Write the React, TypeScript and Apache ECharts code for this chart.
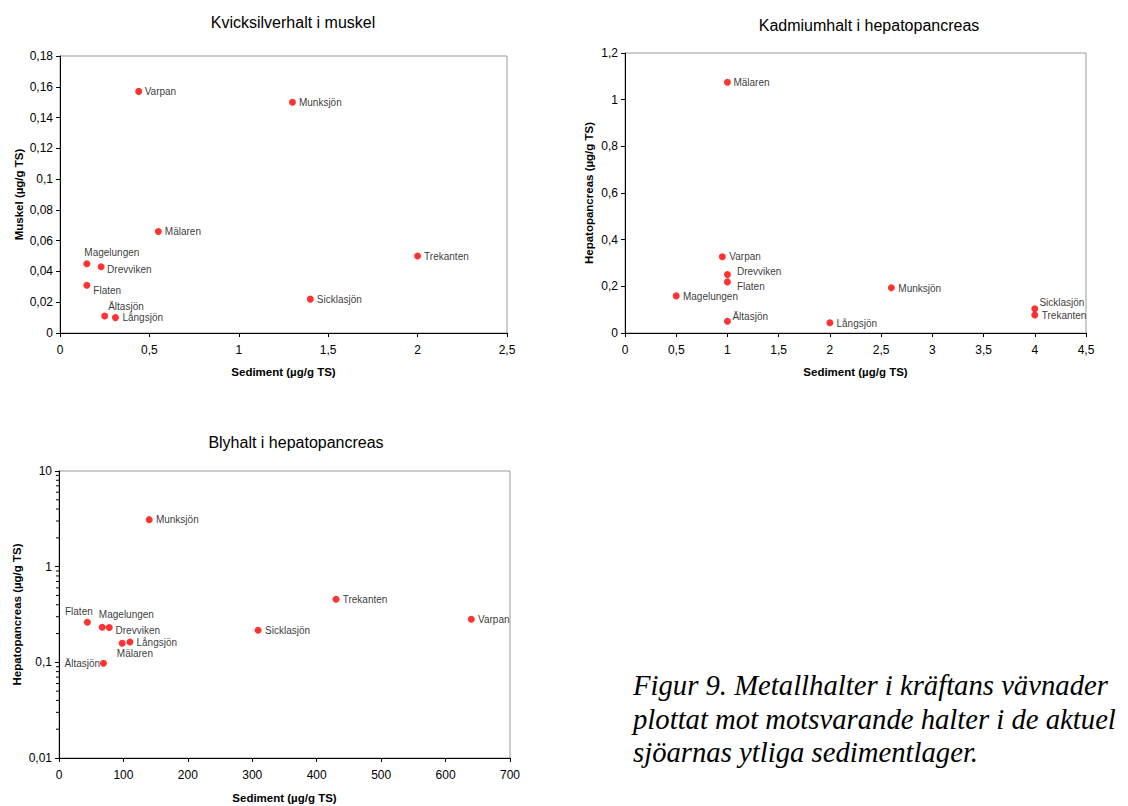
import React, { useEffect, useRef } from "react";
import * as echarts from "echarts";

// ---- Data ----
const hgNames = ["Varpan", "Munksjön", "Mälaren", "Magelungen", "Drevviken", "Flaten", "Trekanten", "Sicklasjön", "Ältasjön", "Långsjön"];
const hgSediment = [0.44, 1.3, 0.55, 0.15, 0.23, 0.15, 2.0, 1.4, 0.25, 0.31];
const hgMuskel = [0.157, 0.15, 0.066, 0.045, 0.043, 0.031, 0.05, 0.022, 0.011, 0.01];

const cdNames = ["Mälaren", "Varpan", "Drevviken", "Flaten", "Munksjön", "Magelungen", "Sicklasjön", "Trekanten", "Ältasjön", "Långsjön"];
const cdSediment = [1.0, 0.95, 1.0, 1.0, 2.6, 0.5, 4.0, 4.0, 1.0, 2.0];
const cdHepato = [1.075, 0.327, 0.251, 0.219, 0.194, 0.159, 0.104, 0.077, 0.05, 0.044];

const pbNames = ["Munksjön", "Trekanten", "Varpan", "Flaten", "Magelungen", "Drevviken", "Sicklasjön", "Långsjön", "Mälaren", "Ältasjön"];
const pbSediment = [140, 430, 640, 44, 67, 78, 309, 110, 98, 69];
const pbHepato = [3.1, 0.456, 0.282, 0.262, 0.233, 0.231, 0.216, 0.163, 0.158, 0.098];

const logMinorTicks = [
  0.02, 0.03, 0.04, 0.05, 0.06, 0.07, 0.08, 0.09,
  0.2, 0.3, 0.4, 0.5, 0.6, 0.7, 0.8, 0.9,
  2, 3, 4, 5, 6, 7, 8, 9,
];

const titles = ["Kvicksilverhalt i muskel", "Kadmiumhalt i hepatopancreas", "Blyhalt i hepatopancreas"];
const xName = "Sediment (µg/g TS)";
const yNames = ["Muskel (µg/g TS)", "Hepatopancreas (µg/g TS)", "Hepatopancreas (µg/g TS)"];
const captionLines = [
  "Figur 9. Metallhalter i kräftans vävnader",
  "plottat mot motsvarande halter i de aktuel",
  "sjöarnas ytliga sedimentlager.",
];

// ---- Label placement (style) : [dx, dy, align] relative to point centre ----
type Place = [number, number, string?];
const hgPlace: Record<string, Place> = {
  Varpan: [6, 0], Munksjön: [6.5, 0], Mälaren: [6.5, 0], Magelungen: [-2.5, -11.5],
  Drevviken: [6, 2.5], Flaten: [6.5, 5.5], Trekanten: [6.5, 0], Sicklasjön: [6.5, 0],
  Ältasjön: [3.5, -10], Långsjön: [7, 0],
};
const cdPlace: Record<string, Place> = {
  Mälaren: [6, 0], Varpan: [7, 0], Drevviken: [9.5, -2.5], Flaten: [9.5, 4.5],
  Munksjön: [7, 0.7], Magelungen: [6.7, 0.7], Sicklasjön: [4.6, -6.7], Trekanten: [7, 0],
  Ältasjön: [5, -4.5], Långsjön: [6.6, 0.7],
};
const pbPlace: Record<string, Place> = {
  Munksjön: [6.7, 0], Trekanten: [6.7, 0], Varpan: [6.7, 0], Flaten: [-8.5, -10.6, "center"],
  Magelungen: [-3.3, -12.6], Drevviken: [6.3, 2.6], Sicklasjön: [7, 0], Långsjön: [6.6, 0],
  Mälaren: [-5.3, 9.7], Ältasjön: [-3.3, 0.7, "right"],
};

const FONT = "'Liberation Sans', Arial, sans-serif";
const SYM = 7;

const fmt = (v: number) => String(+Number(v).toFixed(6)).replace(".", ",");

function points(names: string[], xs: number[], ys: number[], place: Record<string, Place>) {
  return names.map((n, i) => {
    const p = place[n] || [6, 0];
    return {
      name: n,
      value: [xs[i], ys[i]],
      label: {
        position: [SYM / 2 + p[0], SYM / 2 + p[1]],
        align: p[2] || "left",
        verticalAlign: "middle",
      },
    };
  });
}

function makeX(idx: number, max: number, interval: number, nameGap: number) {
  return {
    gridIndex: idx,
    type: "value",
    min: 0,
    max,
    interval,
    name: xName,
    nameLocation: "middle",
    nameGap,
    nameTextStyle: { fontFamily: FONT, fontSize: 11.5, fontWeight: "bold", color: "#000" },
    axisLine: { show: true, onZero: false, lineStyle: { color: "#000", width: 1 } },
    axisTick: { show: true, inside: false, length: 4, lineStyle: { color: "#000" } },
    axisLabel: { fontFamily: FONT, fontSize: 12, color: "#000", margin: 11, formatter: fmt },
    splitLine: { show: false },
  };
}

function makeY(idx: number, extra: any, nameGap: number) {
  return {
    gridIndex: idx,
    name: yNames[idx],
    nameLocation: "middle",
    nameRotate: 90,
    nameGap,
    nameTextStyle: { fontFamily: FONT, fontSize: 11.5, fontWeight: "bold", color: "#000" },
    axisLine: { show: true, onZero: false, lineStyle: { color: "#000", width: 1 } },
    axisTick: { show: true, inside: false, length: 4, lineStyle: { color: "#000" } },
    axisLabel: { fontFamily: FONT, fontSize: 12, color: "#000", margin: 7, formatter: fmt },
    splitLine: { show: false },
    ...extra,
  };
}

function scatter(idx: number, data: any[]) {
  return {
    type: "scatter",
    xAxisIndex: idx,
    yAxisIndex: idx,
    symbol: "circle",
    symbolSize: SYM,
    itemStyle: { color: "#ff0000" },
    label: {
      show: true,
      formatter: "{b}",
      fontFamily: FONT,
      fontSize: 10,
      color: "#000",
    },
    data,
  };
}

export default function App() {
  const ref = useRef<HTMLDivElement>(null);
  useEffect(() => {
    if (!ref.current) return;
    const chart = echarts.init(ref.current, undefined, { renderer: "svg" });
    const grids = [
      { left: 60, top: 56, width: 447, height: 277 },
      { left: 625, top: 53, width: 461, height: 280 },
      { left: 59, top: 471, width: 451, height: 287 },
    ].map((g) => ({ ...g, show: true, borderColor: "#999", borderWidth: 1, backgroundColor: "#fff" }));

    const titleCenters = [
      [293, 23],
      [869, 26],
      [296, 443],
    ];

    const option: any = {
      animation: false,
      backgroundColor: "#fff",
      title: titles.map((t, i) => ({
        text: t,
        left: titleCenters[i][0],
        top: titleCenters[i][1] - 9,
        textAlign: "center",
        padding: 0,
        textStyle: { fontFamily: FONT, fontSize: 16, fontWeight: "normal", color: "#000" },
      })),
      grid: grids,
      xAxis: [makeX(0, 2.5, 0.5, 33), makeX(1, 4.5, 0.5, 33), makeX(2, 700, 100, 34)],
      yAxis: [
        makeY(0, { type: "value", min: 0, max: 0.18, interval: 0.02 }, 35),
        makeY(1, { type: "value", min: 0, max: 1.2, interval: 0.2 }, 30),
        makeY(2, { type: "log", logBase: 10, min: 0.01, max: 10 }, 36),
      ],
      series: [
        scatter(0, points(hgNames, hgSediment, hgMuskel, hgPlace)),
        scatter(1, points(cdNames, cdSediment, cdHepato, cdPlace)),
        scatter(2, points(pbNames, pbSediment, pbHepato, pbPlace)),
        {
          type: "custom",
          xAxisIndex: 2,
          yAxisIndex: 2,
          silent: true,
          clip: false,
          encode: { x: 0, y: 1 },
          data: logMinorTicks.map((v) => [0, v]),
          renderItem: (_p: any, api: any) => {
            const pt = api.coord([0, api.value(1)]);
            return {
              type: "line",
              shape: { x1: pt[0] - 3, y1: pt[1], x2: pt[0], y2: pt[1] },
              style: { stroke: "#000", lineWidth: 1 },
            };
          },
        },
      ],
      graphic: captionLines.map((line, i) => ({
        type: "text",
        x: 633,
        y: [685, 718.5, 752][i],
        style: {
          text: line,
          font: "italic 28.7px 'Liberation Serif', 'Times New Roman', serif",
          fill: "#000",
          align: "left",
          verticalAlign: "middle",
        },
      })),
    };
    chart.setOption(option);
    return () => chart.dispose();
  }, []);
  return (
    <div
      ref={ref}
      style={{ position: "absolute", left: 0, top: 0, width: 1128, height: 806, background: "#fff" }}
    />
  );
}
